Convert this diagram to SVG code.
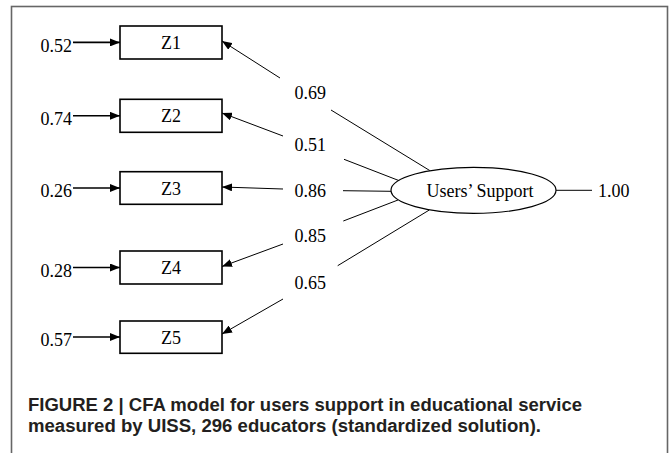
<svg xmlns="http://www.w3.org/2000/svg" width="670" height="453" viewBox="0 0 670 453">
<defs>
<style>
.lbl{font-family:"Liberation Serif","Times New Roman",serif;font-size:18px;fill:#000}
.mid{text-anchor:middle}
.box{fill:#fff;stroke:#000;stroke-width:1.6}
.ell{fill:#fff;stroke:#000;stroke-width:1.2}
.err{stroke:#000;stroke-width:1.6;fill:none}
.ld{stroke:#000;stroke-width:1;fill:none}
.cap{font-family:"Liberation Sans",Arial,sans-serif;font-weight:bold;font-size:18px;fill:#231f20}
</style>
<marker id="ah" viewBox="0 0 10 8" refX="10" refY="4" markerWidth="10" markerHeight="8" markerUnits="userSpaceOnUse" orient="auto">
<path d="M0,0 L10,4 L0,8 Z" fill="#000"/>
</marker>
</defs>
<rect width="670" height="453" fill="#fff"/>
<rect x="11.5" y="6.5" width="656" height="460" fill="none" stroke="#666" stroke-width="1.6"/>

<g id="connectors">
<line class="err" x1="73" y1="42.4" x2="120" y2="42.4" marker-end="url(#ah)"/>
<line class="err" x1="73" y1="115.8" x2="120" y2="115.8" marker-end="url(#ah)"/>
<line class="err" x1="73" y1="188" x2="120" y2="188" marker-end="url(#ah)"/>
<line class="err" x1="73" y1="267.5" x2="120" y2="267.5" marker-end="url(#ah)"/>
<line class="err" x1="73" y1="337" x2="120" y2="337" marker-end="url(#ah)"/>

<line class="ld" x1="280" y1="78" x2="222" y2="41" marker-end="url(#ah)"/>
<line class="ld" x1="283" y1="136" x2="222" y2="113" marker-end="url(#ah)"/>
<line class="ld" x1="283" y1="189" x2="222" y2="187" marker-end="url(#ah)"/>
<line class="ld" x1="283" y1="244" x2="222" y2="266.5" marker-end="url(#ah)"/>
<line class="ld" x1="283" y1="299" x2="222" y2="334" marker-end="url(#ah)"/>

<line class="ld" x1="331" y1="110" x2="430" y2="170.7"/>
<line class="ld" x1="344" y1="159.3" x2="400" y2="181"/>
<line class="ld" x1="343" y1="190.7" x2="391" y2="191.3"/>
<line class="ld" x1="343.3" y1="221" x2="398" y2="200"/>
<line class="ld" x1="337.7" y1="265.7" x2="429.3" y2="210"/>

<line class="ld" x1="556" y1="190.3" x2="592" y2="190.3"/>
</g>

<g id="err1"><text class="lbl" x="40.5" y="51.5">0.52</text></g>
<g id="err2"><text class="lbl" x="40.5" y="124.8">0.74</text></g>
<g id="err3"><text class="lbl" x="40.5" y="197">0.26</text></g>
<g id="err4"><text class="lbl" x="40.5" y="276.5">0.28</text></g>
<g id="err5"><text class="lbl" x="40.5" y="346">0.57</text></g>

<g id="Z1"><rect class="box" x="120" y="26" width="102" height="33"/><text class="lbl mid" x="171" y="49">Z1</text></g>
<g id="Z2"><rect class="box" x="120" y="99.3" width="102" height="33"/><text class="lbl mid" x="171" y="122.3">Z2</text></g>
<g id="Z3"><rect class="box" x="120" y="171.7" width="102" height="32.6"/><text class="lbl mid" x="171" y="194.5">Z3</text></g>
<g id="Z4"><rect class="box" x="120" y="251" width="102" height="33"/><text class="lbl mid" x="171" y="274">Z4</text></g>
<g id="Z5"><rect class="box" x="120" y="321" width="102" height="32.3"/><text class="lbl mid" x="171" y="343.5">Z5</text></g>

<g id="w1"><text class="lbl" x="294.5" y="99.3">0.69</text></g>
<g id="w2"><text class="lbl" x="294.5" y="151">0.51</text></g>
<g id="w3"><text class="lbl" x="294.5" y="196.7">0.86</text></g>
<g id="w4"><text class="lbl" x="294.5" y="241.7">0.85</text></g>
<g id="w5"><text class="lbl" x="294.5" y="289.3">0.65</text></g>

<g id="UsersSupport"><ellipse class="ell" cx="473.5" cy="190.3" rx="82.5" ry="23"/><text class="lbl mid" x="480" y="196.7">Users’ Support</text></g>
<g id="var"><text class="lbl" x="598" y="196.7">1.00</text></g>

<g id="caption">
<text class="cap" x="28" y="411" textLength="554" lengthAdjust="spacingAndGlyphs">FIGURE 2 | CFA model for users support in educational service</text>
<text class="cap" x="28" y="432" textLength="513" lengthAdjust="spacingAndGlyphs">measured by UISS, 296 educators (standardized solution).</text>
</g>
</svg>
